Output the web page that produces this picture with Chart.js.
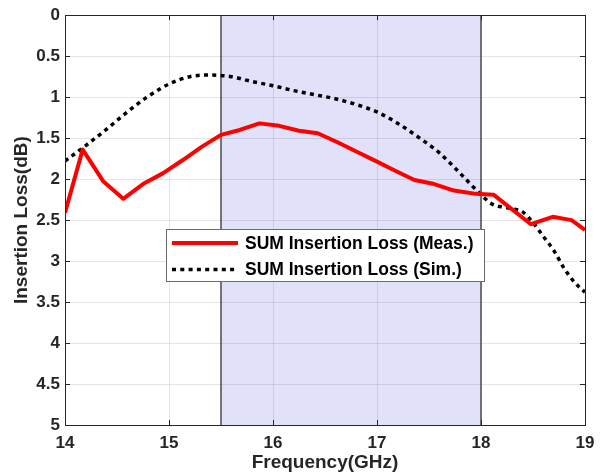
<!DOCTYPE html>
<html>
<head>
<meta charset="utf-8">
<script src="https://cdn.jsdelivr.net/npm/chart.js@4/dist/chart.umd.min.js"></script>
<style>
html, body { margin: 0; padding: 0; background: #fff; }
</style>
</head>
<body>
<canvas id="chart" width="608" height="476"></canvas>
<script>
// measured insertion loss (GHz / dB)
const measFreq = [14.00, 14.17, 14.37, 14.56, 14.75, 14.94, 15.13, 15.31, 15.50, 15.68, 15.87, 16.06, 16.25, 16.43,
	16.62, 16.81, 16.99, 17.18, 17.36, 17.55, 17.74, 17.95, 18.12, 18.29, 18.48, 18.69, 18.87, 19.00]
const measLoss = [2.41, 1.64, 2.03, 2.24, 2.06, 1.93, 1.77, 1.61, 1.46, 1.40, 1.32, 1.35, 1.41, 1.44,
	1.55, 1.67, 1.78, 1.90, 2.01, 2.06, 2.14, 2.18, 2.19, 2.36, 2.55, 2.46, 2.50, 2.62]

// simulated insertion loss
const simFreq = [14.0, 14.2, 14.4, 14.6, 14.8, 15.0, 15.2, 15.4, 15.6, 15.8, 16.0, 16.2, 16.4, 16.6, 16.8,
	17.0, 17.2, 17.4, 17.6, 17.8, 18.0, 18.1, 18.2, 18.3, 18.4, 18.5, 18.6, 18.7, 18.8, 18.9, 19.0]
const simLoss = [1.78, 1.59, 1.39, 1.18, 0.99, 0.84, 0.75, 0.73, 0.75, 0.81, 0.86, 0.92, 0.97, 1.02, 1.09,
	1.18, 1.32, 1.49, 1.68, 1.93, 2.19, 2.30, 2.34, 2.36, 2.40, 2.53, 2.70, 2.87, 3.09, 3.26, 3.38]

const seriesLabels = ['SUM Insertion Loss (Meas.)', 'SUM Insertion Loss (Sim.)']
const bandEdges = [15.5, 18]   // shaded band (GHz)

const FONT = "'Liberation Sans', Arial, Helvetica, sans-serif"
const INK = '#262626'

function toPoints(xs, ys) {
	return xs.map((x, i) => ({x: x, y: ys[i]}))
}

// shaded band under the grid, edges over it
const bandPlugin = {
	id: 'band',
	beforeDraw(chart) {
		const {ctx, chartArea, scales} = chart
		const x0 = scales.x.getPixelForValue(bandEdges[0])
		const x1 = scales.x.getPixelForValue(bandEdges[1])
		ctx.save()
		ctx.fillStyle = '#e1e1fa'
		ctx.fillRect(x0, chartArea.top, x1 - x0, chartArea.bottom - chartArea.top)
		ctx.restore()
	},
	beforeDatasetsDraw(chart) {
		const {ctx, chartArea, scales} = chart
		ctx.save()
		ctx.strokeStyle = '#4a4a4a'
		ctx.lineWidth = 1.5
		bandEdges.forEach(function (v) {
			const x = scales.x.getPixelForValue(v)
			ctx.beginPath()
			ctx.moveTo(x, chartArea.top)
			ctx.lineTo(x, chartArea.bottom)
			ctx.stroke()
		})
		ctx.restore()
	}
}

// matlab style box with inward ticks
const framePlugin = {
	id: 'frame',
	afterDatasetsDraw(chart) {
		const {ctx, chartArea: a, scales} = chart
		const len = 5
		ctx.save()
		ctx.strokeStyle = INK
		ctx.lineWidth = 1
		ctx.beginPath()
		scales.x.ticks.forEach(function (t) {
			const x = Math.round(scales.x.getPixelForValue(t.value)) + 0.5
			ctx.moveTo(x, a.bottom); ctx.lineTo(x, a.bottom - len)
			ctx.moveTo(x, a.top); ctx.lineTo(x, a.top + len)
		})
		scales.y.ticks.forEach(function (t) {
			const y = Math.round(scales.y.getPixelForValue(t.value)) + 0.5
			ctx.moveTo(a.left, y); ctx.lineTo(a.left + len, y)
			ctx.moveTo(a.right, y); ctx.lineTo(a.right - len, y)
		})
		ctx.stroke()
		ctx.strokeRect(Math.round(a.left) + 0.5, Math.round(a.top) + 0.5,
			Math.round(a.right - a.left), Math.round(a.bottom - a.top))
		ctx.restore()
	}
}

// legend box placed inside the plot
const legendPlugin = {
	id: 'boxLegend',
	afterDraw(chart) {
		const {ctx} = chart
		const box = {left: 166, top: 229, width: 318, height: 52}
		ctx.save()
		ctx.fillStyle = '#fff'
		ctx.fillRect(box.left, box.top, box.width, box.height)
		ctx.strokeStyle = '#6b6b6b'
		ctx.lineWidth = 1
		ctx.strokeRect(box.left + 0.5, box.top + 0.5, box.width, box.height)
		chart.data.datasets.forEach(function (ds, i) {
			const y = box.top + 14 + i * 26.5
			ctx.strokeStyle = ds.borderColor
			ctx.lineWidth = ds.borderWidth
			ctx.setLineDash(ds.borderDash || [])
			ctx.beginPath()
			ctx.moveTo(box.left + 6, y)
			ctx.lineTo(box.left + 72, y)
			ctx.stroke()
			ctx.setLineDash([])
			ctx.fillStyle = '#000'
			ctx.font = 'bold 17.5px ' + FONT
			ctx.textBaseline = 'middle'
			ctx.fillText(ds.label, box.left + 79, y + 1)
		})
		ctx.restore()
	}
}

new Chart(document.getElementById('chart'), {
	type: 'line',
	data: {
		datasets: [{
			label: seriesLabels[0],
			data: toPoints(measFreq, measLoss),
			borderColor: '#ff0000',
			borderWidth: 4,
			pointRadius: 0,
			tension: 0,
			borderJoinStyle: 'round'
		}, {
			label: seriesLabels[1],
			data: toPoints(simFreq, simLoss),
			borderColor: '#000000',
			borderWidth: 3.5,
			borderDash: [4, 4.3],
			pointRadius: 0,
			cubicInterpolationMode: 'monotone'
		}]
	},
	options: {
		responsive: false,
		animation: false,
		devicePixelRatio: 1,
		layout: {padding: {left: 0, right: 23, top: 14, bottom: 0}},
		plugins: {
			legend: {display: false},
			tooltip: {enabled: false}
		},
		scales: {
			x: {
				type: 'linear',
				min: 14,
				max: 19,
				ticks: {stepSize: 1, color: INK, padding: 8, font: {family: FONT, size: 17, weight: 'bold'}},
				grid: {color: 'rgba(0,0,0,0.1)', drawTicks: false},
				border: {display: false},
				title: {display: true, text: 'Frequency(GHz)', color: INK, padding: {top: 0, bottom: 2},
					font: {family: FONT, size: 19, weight: 'bold'}},
				afterFit(scale) { scale.height = 51 }
			},
			y: {
				min: 0,
				max: 5,
				reverse: true,
				ticks: {
					stepSize: 0.5, color: INK, padding: 5, font: {family: FONT, size: 17, weight: 'bold'},
					callback: (v) => String(Number(v.toFixed(1)))
				},
				grid: {color: 'rgba(0,0,0,0.1)', drawTicks: false},
				border: {display: false},
				title: {display: true, text: 'Insertion Loss(dB)', color: INK, padding: {top: 10, bottom: 0},
					font: {family: FONT, size: 19, weight: 'bold'}},
				afterFit(scale) { scale.width = 65 }
			}
		}
	},
	plugins: [bandPlugin, framePlugin, legendPlugin]
})
</script>
</body>
</html>
